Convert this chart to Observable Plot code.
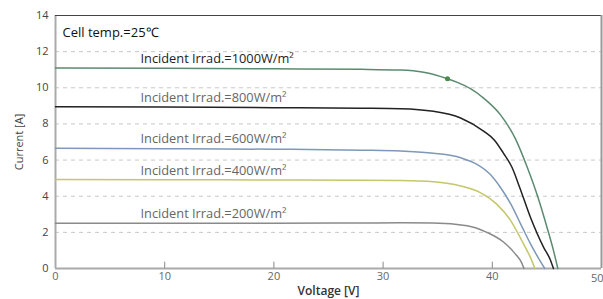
<!DOCTYPE html>
<html><head><meta charset="utf-8">
<script src="https://cdn.jsdelivr.net/npm/d3@7"></script>
<script src="https://cdn.jsdelivr.net/npm/@observablehq/plot@0.6"></script>
<style>body{margin:0;background:#fff;font-family:"Open Sans",sans-serif}</style>
</head><body><div id="chart"></div>
<script>
const irradiance = [1000, 800, 600, 400, 200];
const labels = ["Incident Irrad.=1000W/m²","Incident Irrad.=800W/m²","Incident Irrad.=600W/m²","Incident Irrad.=400W/m²","Incident Irrad.=200W/m²"];
const colors = ["#5b8a70","#222222","#7d98b8","#c6c66a","#8a8a8a"];
const labelColors = ["#222222","#666666","#666666","#666666","#666666"];
const v1000 = [0,10,20,28,31.6,33.7,35.9,36.8,38,39.2,40.75,42.1,43.2,44.2,45,45.6,46.0];
const i1000 = [11.1,11.08,11.05,11.02,10.98,10.86,10.5,10.3,9.95,9.43,8.5,7.2,5.6,3.9,2.3,1.0,0];
const v800 = [0,10,20,28,31.6,34.6,37.1,39.2,40.2,41.0,41.8,42.5,43.5,44.7,45.3,45.6];
const i800 = [8.95,8.93,8.9,8.87,8.84,8.7,8.33,7.6,7.1,6.4,5.6,4.5,2.82,1.17,0.5,0];
const v600 = [0,10,20,28,31.6,34.6,37.1,38.6,39.8,40.75,41.7,42.6,43.5,44.2,44.8];
const i600 = [6.65,6.63,6.6,6.55,6.5,6.38,6.13,5.76,5.21,4.48,3.56,2.46,1.36,0.6,0];
const v400 = [0,10,20,28,31.6,34.6,37.1,38.9,40.4,41.7,42.7,43.5,43.9];
const i400 = [4.92,4.91,4.9,4.89,4.87,4.8,4.57,4.2,3.56,2.64,1.54,0.6,0];
const v200 = [0,10,20,28,31.6,34.6,37.7,39.5,41.05,42.1,42.7,42.9];
const i200 = [2.5,2.5,2.5,2.52,2.53,2.52,2.37,2.0,1.45,0.81,0.3,0];
const knee = {v: 35.9, i: 10.5};
const xTicks = [0,10,20,30,40,50];
const yTicks = [0,2,4,6,8,10,12,14];
const gridY = [2,4,6,8,10,12];
const cellTemp = "Cell temp.=25℃";

const series = [[v1000,i1000],[v800,i800],[v600,i600],[v400,i400],[v200,i200]];
const rows = [];
series.forEach(([vs, is], k) => vs.forEach((v, j) => rows.push({irr: irradiance[k], v, i: is[j], k})));
const labelRows = irradiance.map((irr, k) => ({irr, text: labels[k], isc: series[k][1][0], k}));
const lastTick = xTicks[xTicks.length - 1];

const chart = Plot.plot({
  width: 603, height: 299,
  marginLeft: 55, marginRight: 2, marginTop: 15, marginBottom: 31,
  style: {fontFamily: "Open Sans, sans-serif", background: "#fff"},
  x: {domain: [0, 50]},
  y: {domain: [0, 14]},
  marks: [
    Plot.ruleY(gridY, {stroke: "#c8c8c8", strokeDasharray: "4,4", strokeWidth: 1}),
    Plot.ruleX([0], {stroke: "#aaaaaa", strokeWidth: 2}),
    Plot.ruleY([0], {stroke: "#aaaaaa", strokeWidth: 2}),
    Plot.ruleY([14], {stroke: "#444444", strokeWidth: 1.2}),
    Plot.ruleX([50], {stroke: "#999999", strokeWidth: 2}),
    Plot.ruleX(xTicks.slice(1, -1), {y1: 0, y2: 0.35, stroke: "#888"}),
    Plot.line(rows, {x: "v", y: "i", z: "irr", stroke: d => colors[d.k], strokeWidth: 1.5, curve: "monotone-x"}),
    Plot.dot([knee], {x: "v", y: "i", r: 2.5, fill: "#4a8a4a"}),
    Plot.text(labelRows, {y: "isc", text: "text", frameAnchor: "left", dx: 85, dy: -5, lineAnchor: "bottom", textAnchor: "start", fontSize: 12.8, fill: d => labelColors[d.k]}),
    Plot.text([cellTemp], {frameAnchor: "top-left", dx: 7, dy: 12, textAnchor: "start", fontSize: 13, fill: "#111"}),
    Plot.axisY(yTicks, {tickSize: 0, tickPadding: 7, fontSize: 11, color: "#444", label: "Current [A]", labelAnchor: "center", labelArrow: "none", labelOffset: 40}),
    Plot.axisX(xTicks.slice(0, -1), {tickSize: 0, tickPadding: 4, fontSize: 11, color: "#666", label: null}),
    Plot.text([lastTick], {x: d => d, frameAnchor: "bottom", dy: 13, dx: 2, textAnchor: "end", fontSize: 11, fill: "#666"}),
    Plot.text(["Voltage [V]"], {frameAnchor: "bottom", dy: 26, fontSize: 12, fontWeight: 600, fill: "#333"})
  ]
});
document.getElementById("chart").appendChild(chart);
</script>
</body></html>
